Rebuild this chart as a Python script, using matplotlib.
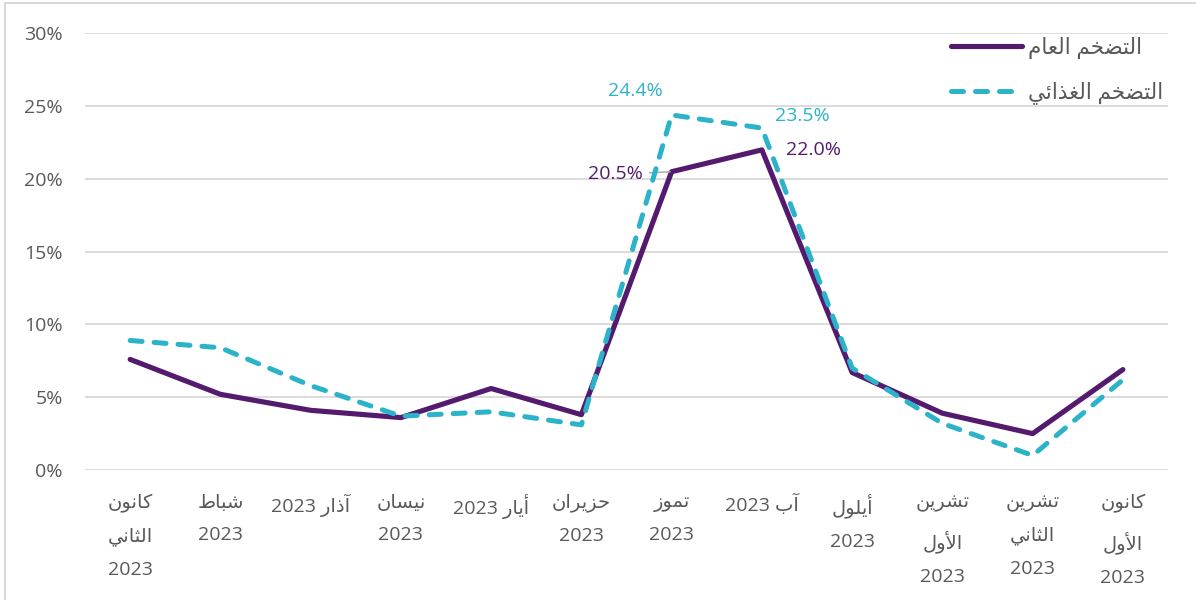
import matplotlib
matplotlib.use("Agg")
import matplotlib.pyplot as plt
from matplotlib.lines import Line2D

# month labels (logical Arabic order, one entry per line)
months = [
    "كانون\nالثاني\n2023", "شباط\n2023", "آذار 2023", "نيسان\n2023",
    "أيار 2023", "حزيران\n2023", "تموز\n2023", "آب 2023",
    "أيلول\n2023", "تشرين\nالأول\n2023", "تشرين\nالثاني\n2023", "كانون\nالأول\n2023",
]
headline = [7.6, 5.2, 4.1, 3.6, 5.6, 3.8, 20.5, 22.0, 6.7, 3.9, 2.5, 6.9]
food = [8.9, 8.4, 5.8, 3.7, 4.0, 3.1, 24.4, 23.5, 7.0, 3.2, 1.0, 6.2]
series_names = ["التضخم العام", "التضخم الغذائي"]
yticks = [0, 5, 10, 15, 20, 25, 30]

PURPLE = "#541a6e"
TEAL = "#2bb3c9"
GRAY = "#595959"
FS = 14

# --- tiny arabic shaper (matplotlib does no shaping / bidi) ---
# letter: (isolated, final, initial, medial) ; right-joining letters have 2 forms
FORMS = {
    "ا": (0xFE8D, 0xFE8E), "آ": (0xFE81, 0xFE82), "أ": (0xFE83, 0xFE84),
    "ذ": (0xFEAB, 0xFEAC), "ر": (0xFEAD, 0xFEAE), "ز": (0xFEAF, 0xFEB0),
    "و": (0xFEED, 0xFEEE),
    "ب": (0xFE8F, 0xFE90, 0xFE91, 0xFE92), "ت": (0xFE95, 0xFE96, 0xFE97, 0xFE98),
    "ث": (0xFE99, 0xFE9A, 0xFE9B, 0xFE9C), "ح": (0xFEA1, 0xFEA2, 0xFEA3, 0xFEA4),
    "خ": (0xFEA5, 0xFEA6, 0xFEA7, 0xFEA8), "س": (0xFEB1, 0xFEB2, 0xFEB3, 0xFEB4),
    "ش": (0xFEB5, 0xFEB6, 0xFEB7, 0xFEB8), "ض": (0xFEBD, 0xFEBE, 0xFEBF, 0xFEC0),
    "ط": (0xFEC1, 0xFEC2, 0xFEC3, 0xFEC4), "ع": (0xFEC9, 0xFECA, 0xFECB, 0xFECC),
    "غ": (0xFECD, 0xFECE, 0xFECF, 0xFED0), "ك": (0xFED9, 0xFEDA, 0xFEDB, 0xFEDC),
    "ل": (0xFEDD, 0xFEDE, 0xFEDF, 0xFEE0), "م": (0xFEE1, 0xFEE2, 0xFEE3, 0xFEE4),
    "ن": (0xFEE5, 0xFEE6, 0xFEE7, 0xFEE8), "ي": (0xFEF1, 0xFEF2, 0xFEF3, 0xFEF4),
    "ئ": (0xFE89, 0xFE8A, 0xFE8B, 0xFE8C),
}
LAMALEF = {"آ": (0xFEF5, 0xFEF6), "أ": (0xFEF7, 0xFEF8), "ا": (0xFEFB, 0xFEFC)}


def shape_word(w):
    out = []
    i = 0
    while i < len(w):
        c = w[i]
        if c not in FORMS:
            out.append(c)
            i += 1
            continue
        prev = w[i - 1] if i > 0 else ""
        joins_prev = prev in FORMS and len(FORMS[prev]) == 4
        if c == "ل" and i + 1 < len(w) and w[i + 1] in LAMALEF:
            f = LAMALEF[w[i + 1]]
            out.append(chr(f[1] if joins_prev else f[0]))
            i += 2
            continue
        nxt = w[i + 1] if i + 1 < len(w) else ""
        forms = FORMS[c]
        joins_next = len(forms) == 4 and nxt in FORMS
        if joins_prev and joins_next:
            g = forms[3]
        elif joins_prev:
            g = forms[1]
        elif joins_next:
            g = forms[2]
        else:
            g = forms[0]
        out.append(chr(g))
        i += 1
    return "".join(out)


def ar(text):
    lines = []
    for line in text.split("\n"):
        toks = []
        for t in line.split(" "):
            if any(ch in FORMS for ch in t):
                t = shape_word(t)[::-1]
            toks.append(t)
        lines.append(" ".join(toks[::-1]))
    return "\n".join(lines)


plt.rcParams["font.family"] = ["Open Sans", "DejaVu Sans"]

fig = plt.figure(figsize=(11.96, 6.0), dpi=100)
ax = fig.add_axes([0.0711, 0.2167, 0.9055, 0.7275])

x = list(range(len(months)))
ax.plot(x, headline, color=PURPLE, lw=3.7, solid_capstyle="round", zorder=3)
ax.plot(x, food, color=TEAL, lw=3.6, dashes=(2.4, 2.4), dash_capstyle="round", zorder=4)

ax.set_xlim(-0.5, len(months) - 0.5)
ax.set_ylim(0, 30)
ax.set_yticks(yticks)
ax.set_yticklabels([f"{v}%" for v in yticks])
ax.set_xticks(x)
ax.set_xticklabels([ar(m) for m in months], linespacing=2.05, va="top")
ax.tick_params(axis="y", length=0, pad=16, labelsize=FS, labelcolor=GRAY)
ax.tick_params(axis="x", length=0, pad=17, labelsize=FS, labelcolor=GRAY)
ax.grid(axis="y", color="#d9d9d9", lw=1.3)
ax.set_axisbelow(True)
for s in ax.spines.values():
    s.set_visible(False)

# data labels
ax.annotate(f"{food[6]:.1f}%", (6, food[6]), xytext=(-26, 17), textcoords="offset points",
            ha="center", va="center", color=TEAL, fontsize=FS)
ax.annotate(f"{food[7]:.1f}%", (7, food[7]), xytext=(29, 9), textcoords="offset points",
            ha="center", va="center", color=TEAL, fontsize=FS)
ax.annotate(f"{headline[7]:.1f}%", (7, headline[7]), xytext=(37, 0), textcoords="offset points",
            ha="center", va="center", color=PURPLE, fontsize=FS)
ax.annotate(f"{headline[6]:.1f}%", (6, headline[6]), xytext=(-21, -2), textcoords="offset points",
            ha="right", va="center", color=PURPLE, fontsize=FS,
            arrowprops=dict(arrowstyle="-", color="#a6a6a6", lw=1.0, shrinkA=3, shrinkB=1))

handles = [
    Line2D([], [], color=PURPLE, lw=3.7, solid_capstyle="round"),
    Line2D([], [], color=TEAL, lw=3.6, dashes=(2.4, 2.4), dash_capstyle="round"),
]
ax.legend(handles, [ar(n) for n in series_names], loc="upper right", bbox_to_anchor=(1.004, 1.012),
          frameon=False, fontsize=15.5, handlelength=3.3, handletextpad=0.3,
          labelspacing=1.05, labelcolor=GRAY, borderaxespad=0.0)

# light frame around the picture
fig.add_artist(Line2D([0.0045, 0.0045], [0, 0.995], color="#d9d9d9", lw=1.5))
fig.add_artist(Line2D([0.0045, 1.0], [0.995, 0.995], color="#d9d9d9", lw=1.5))

fig.savefig("out.png", dpi=100)
